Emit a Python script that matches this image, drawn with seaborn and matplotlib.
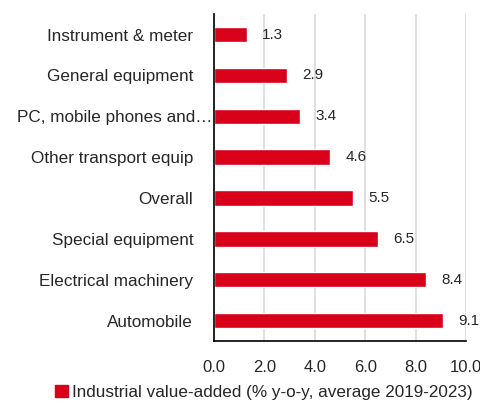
import matplotlib
matplotlib.use("Agg")
import matplotlib.pyplot as plt
import matplotlib.transforms as mtransforms
from matplotlib.ticker import MultipleLocator, FixedLocator
from matplotlib.patches import Patch
import seaborn as sns
import pandas as pd

categories = ["Instrument & meter", "General equipment", "PC, mobile phones and\u2026",
              "Other transport equip", "Overall", "Special equipment",
              "Electrical machinery", "Automobile"]
values = [1.3, 2.9, 3.4, 4.6, 5.5, 6.5, 8.4, 9.1]
series_name = "Industrial value-added (% y-o-y, average 2019-2023)"
bar_color = "#D9001A"

sns.set_style("white")
plt.rcParams["font.family"] = ["Liberation Sans", "DejaVu Sans"]

df = pd.DataFrame({"category": categories, "value": values})

fig = plt.figure(figsize=(4.81, 4.05), dpi=100)
ax = fig.add_axes([0.445, 0.158, 0.524, 0.807])
sns.barplot(data=df, x="value", y="category", orient="h", color=bar_color,
            width=0.38, saturation=1, ax=ax)

ax.set_xlim(0, 10)
ax.set_ylim(len(categories) - 0.5, -0.5)
ax.xaxis.set_major_locator(MultipleLocator(2))
ax.set_xticklabels([f"{v:.1f}" for v in ax.get_xticks()])
ax.grid(axis="x", color="#D9D9D9", lw=1.2)
ax.set_axisbelow(True)
ax.set_xlabel("")
ax.set_ylabel("")

for s in ["top", "right"]:
    ax.spines[s].set_visible(False)
for s in ["left", "bottom"]:
    ax.spines[s].set_color("black")
    ax.spines[s].set_linewidth(1.2)

# category ticks sit on the boundaries, labels in the middle
ax.yaxis.set_minor_locator(FixedLocator([i - 0.5 for i in range(len(categories) + 1)]))
ax.tick_params(axis="y", which="major", length=0, labelsize=12.3, pad=15)
ax.tick_params(axis="y", which="minor", length=4, width=1.2, color="black", direction="out")
ax.tick_params(axis="x", which="major", length=4, width=1.2, color="black",
               direction="out", labelsize=12, pad=10)

# the truncated label runs right up to the axis, as in the source chart
long_lbl = ax.get_yticklabels()[2]
long_lbl.set_transform(long_lbl.get_transform()
                       + mtransforms.ScaledTranslation(14 / 72, 0, fig.dpi_scale_trans))

ax.bar_label(ax.containers[0], fmt="%.1f", padding=11, fontsize=11)

handle = Patch(facecolor=bar_color, edgecolor=bar_color)
fig.legend([handle], [series_name], loc="lower center", bbox_to_anchor=(0.548, -0.025),
           frameon=False, fontsize=12.3, handlelength=0.75, handleheight=0.75,
           handletextpad=0.25)

fig.savefig("out.png", dpi=100)
